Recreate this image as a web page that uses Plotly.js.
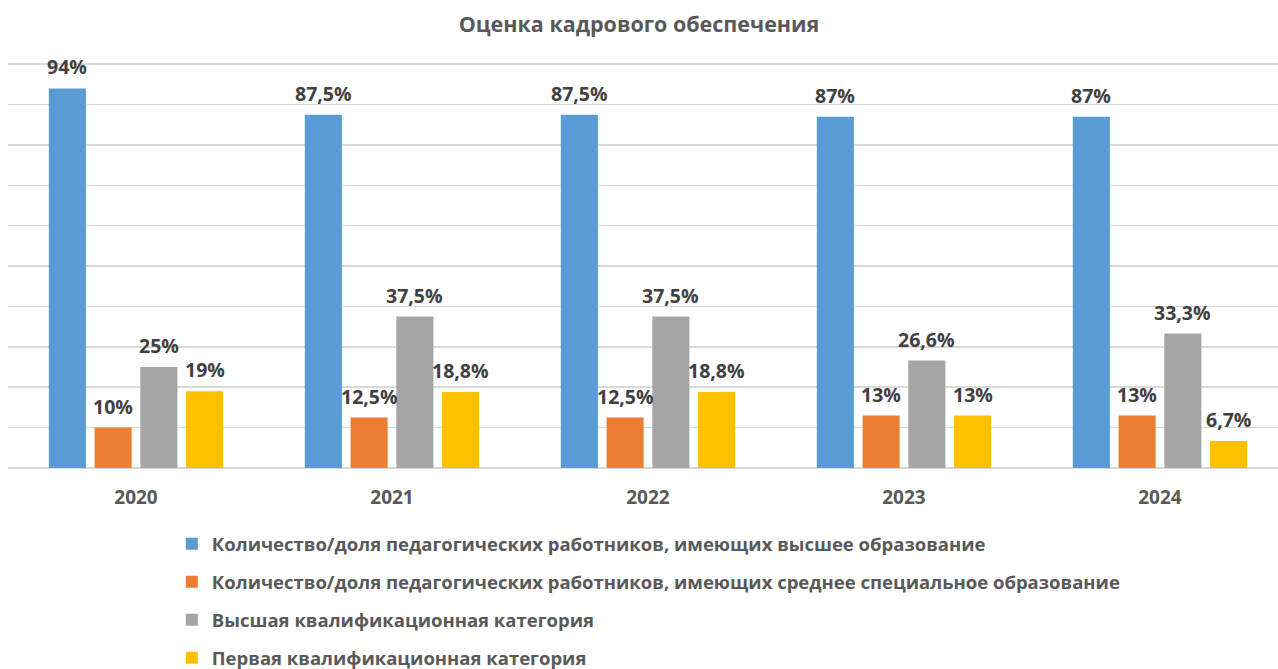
<!DOCTYPE html>
<html>
<head>
<meta charset="utf-8">
<script src="https://cdn.plot.ly/plotly-3.0.1.min.js"></script>
<style>html,body{margin:0;padding:0;background:#fff;}#chart{width:1278px;height:669px;}</style>
</head>
<body>
<div id="chart"></div>
<script>
const years = ['2020', '2021', '2022', '2023', '2024'];
const seriesNames = [
  'Количество/доля педагогических работников, имеющих высшее образование',
  'Количество/доля педагогических работников, имеющих среднее специальное образование',
  'Высшая квалификационная категория',
  'Первая квалификационная категория'
];
const higherEdu = [94, 87.5, 87.5, 87, 87];
const secondaryEdu = [10, 12.5, 12.5, 13, 13];
const topCategory = [25, 37.5, 37.5, 26.6, 33.3];
const firstCategory = [19, 18.8, 18.8, 13, 6.7];
const colors = ['#5B9BD5', '#ED7D31', '#A5A5A5', '#FFC000'];

const seriesValues = [higherEdu, secondaryEdu, topCategory, firstCategory];
const BARGAP = 0.285;
const nSeries = seriesValues.length;
const slot = (1 - BARGAP) / nSeries;

const traces = seriesValues.map((vals, i) => ({
  type: 'bar',
  name: seriesNames[i],
  x: years,
  y: vals,
  marker: {color: colors[i]},
  legendgroup: 'g' + i,
  hoverinfo: 'skip'
}));

const fmt = v => String(v).replace('.', ',') + '%';
const annotations = [];
seriesValues.forEach((vals, i) => {
  vals.forEach((v, j) => {
    annotations.push({
      x: j + (i - (nSeries - 1) / 2) * slot,
      y: v,
      xref: 'x', yref: 'y',
      text: '<b>' + fmt(v) + '</b>',
      showarrow: false,
      xanchor: 'center', yanchor: 'bottom',
      yshift: 6,
      font: {family: 'Open Sans', size: 19.5, color: '#404040'}
    });
  });
});

const layout = {
  width: 1278,
  height: 669,
  paper_bgcolor: '#fff',
  plot_bgcolor: '#fff',
  font: {family: 'Open Sans', color: '#595959'},
  title: {
    text: '<b>Оценка кадрового обеспечения</b>',
    font: {family: 'Open Sans', size: 21.5, color: '#595959'},
    x: 0.5, xanchor: 'center', y: 0.963, yanchor: 'middle'
  },
  margin: {l: 8, r: 0, t: 63, b: 201, autoexpand: false},
  barmode: 'group',
  bargap: BARGAP,
  bargroupgap: 0.19,
  xaxis: {
    type: 'category',
    range: [-0.5, 4.461],
    showgrid: false,
    showline: false,
    zeroline: false,
    ticks: '',
    ticklabelstandoff: 16,
    tickfont: {family: 'Open Sans', size: 19, color: '#595959', weight: 'bold'}
  },
  yaxis: {
    range: [0, 100.3],
    dtick: 10,
    showticklabels: false,
    gridcolor: '#D9D9D9',
    gridwidth: 1.5,
    zeroline: true,
    zerolinecolor: '#D9D9D9',
    zerolinewidth: 1.5
  },
  annotations: annotations,
  showlegend: true,
  legend: {
    orientation: 'v',
    traceorder: 'grouped',
    tracegroupgap: 11,
    x: 0.129, xanchor: 'left',
    y: -0.141, yanchor: 'top',
    font: {family: 'Open Sans', size: 18.5, color: '#595959', weight: 'bold'},
    itemclick: false
  }
};

Plotly.newPlot('chart', traces, layout, {displayModeBar: false, staticPlot: true});
</script>
</body>
</html>
